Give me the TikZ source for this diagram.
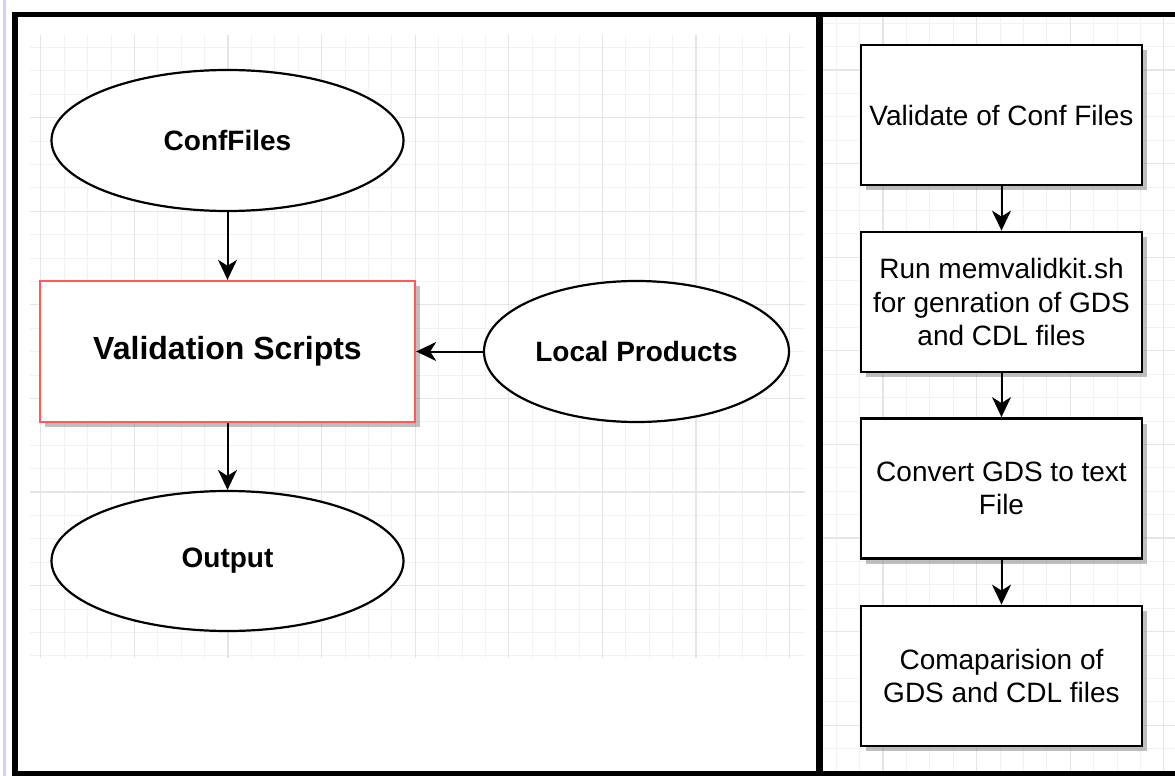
\documentclass[tikz,border=0pt]{standalone}
\usepackage{fontspec}
\setmainfont{Liberation Sans}
\usetikzlibrary{shapes.geometric,arrows.meta,shadows}

\begin{document}
\begin{tikzpicture}[x=0.5pt,y=-0.5pt,
    gridminor/.style={draw=black!5, line width=0.5pt},
    gridmajor/.style={draw=black!10, line width=0.6pt},
    frame/.style={draw=black, line width=2.6pt},
    oval/.style={ellipse, draw, line width=1.1pt, fill=white, inner sep=0pt,
                 minimum width=176pt, minimum height=70.5pt,
                 font=\bfseries\fontsize{14}{17}\selectfont},
    scriptbox/.style={rectangle, draw=red!65, line width=1.2pt, fill=white,
                 minimum width=187.5pt, minimum height=70.5pt,
                 font=\bfseries\fontsize{16}{19}\selectfont,
                 drop shadow={shadow xshift=2.5pt, shadow yshift=-2.5pt, opacity=0.45, fill=black!55}},
    stepbox/.style={rectangle, draw, line width=1.4pt, fill=white,
                 minimum width=140.5pt, minimum height=70pt, align=center,
                 font=\fontsize{14}{16.8}\selectfont,
                 drop shadow={shadow xshift=2.5pt, shadow yshift=-2.5pt, opacity=0.45, fill=black!55}},
    flow/.style={line width=1pt, -{Stealth[length=10pt,width=9.5pt,inset=3pt]}}]

    \fill[white] (0,0) rectangle (1175,776);
    \useasboundingbox (0,0) rectangle (1175,776);

    % grid of the left panel
    \foreach \k in {0,...,32}
        \draw[gridminor] ({40.8+\k*23.4},35) -- ({40.8+\k*23.4},658);
    \foreach \k in {1,...,27}
        \draw[gridminor] (30,{24+\k*23.4}) -- (805,{24+\k*23.4});
    \foreach \k in {0,4,...,32}
        \draw[gridmajor] ({40.8+\k*23.4},35) -- ({40.8+\k*23.4},658);
    \foreach \k in {4,8,...,24}
        \draw[gridmajor] (30,{24+\k*23.4}) -- (805,{24+\k*23.4});

    % grid of the right panel
    \foreach \k in {0,...,14}
        \draw[gridminor] ({836.2+\k*23.4},17) -- ({836.2+\k*23.4},771);
    \foreach \k in {0,...,32}
        \draw[gridminor] (823,{23.2+\k*23.4}) -- (1175,{23.2+\k*23.4});
    \foreach \k in {2,6,...,14}
        \draw[gridmajor] ({836.2+\k*23.4},17) -- ({836.2+\k*23.4},771);
    \foreach \k in {2,6,...,30}
        \draw[gridmajor] (823,{23.2+\k*23.4}) -- (1175,{23.2+\k*23.4});

    % frames
    \draw[draw=blue!18, line width=1.6pt] (4.5,0) -- (4.5,776);
    \path[frame] (15,776) -- (15,14.5) -- (1175,14.5)
                 (15,774) -- (1175,774);
    \draw[draw=black, line width=3.5pt] (819.5,14.5) -- (819.5,776);

    % left flow
    \node[oval] (conffiles) at (227.5,140.5) {ConfFiles};
    \node[scriptbox] (valscripts) at (227.5,351.5) {Validation Scripts};
    \node[oval, minimum width=152.5pt] (localprod) at (636.5,351.5) {Local Products};
    \node[oval, minimum height=70pt] (output) at (227.5,561) {Output};

    \draw[flow] (conffiles) -- (valscripts);
    \draw[flow] (localprod) -- (valscripts);
    \draw[flow] (valscripts) -- (output);

    % right flow
    \node[stepbox] (validate) at (1001.5,115) {Validate of Conf Files};
    \node[stepbox] (runkit) at (1001.5,302) {Run memvalidkit.sh\\for genration of GDS\\and CDL files};
    \node[stepbox] (convert) at (1001.5,488.5) {Convert GDS to text\\File};
    \node[stepbox] (compare) at (1001.5,676) {Comaparision of\\GDS and CDL files};

    \draw[flow] (validate) -- (runkit);
    \draw[flow] (runkit) -- (convert);
    \draw[flow] (convert) -- (compare);

\end{tikzpicture}
\end{document}
